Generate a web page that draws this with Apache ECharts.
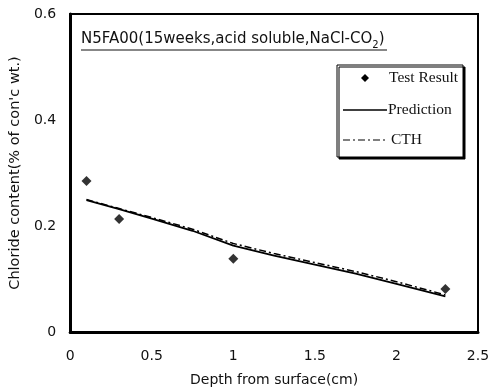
<!DOCTYPE html>
<html><head><meta charset="utf-8">
<script src="https://cdn.jsdelivr.net/npm/echarts@6/dist/echarts.min.js"></script>
<style>html,body{margin:0;padding:0;background:#fff}#c{width:494px;height:392px}</style>
</head><body><div id="c"></div>
<script>
var testX = [0.1, 0.3, 1.0, 2.3];
var testY = [0.285, 0.213, 0.138, 0.081];
var predX = [0.1, 0.3, 0.5, 0.75, 1.0, 1.25, 1.5, 1.75, 2.0, 2.3];
var predY = [0.249, 0.232, 0.214, 0.191, 0.163, 0.144, 0.127, 0.110, 0.091, 0.067];
var cthX = [0.1, 0.3, 0.5, 0.75, 1.0, 1.25, 1.5, 1.75, 2.0, 2.3];
var cthY = [0.250, 0.233, 0.216, 0.194, 0.167, 0.148, 0.131, 0.114, 0.095, 0.070];
var seriesNames = ['Test Result', 'Prediction', 'CTH'];
var xTicks = [0, 0.5, 1, 1.5, 2, 2.5];
var yTicks = [0, 0.2, 0.4, 0.6];

function pairs(xs, ys){ return xs.map(function(x,i){return [x, ys[i]];}); }

var chart = echarts.init(document.getElementById('c'), null, {renderer:'canvas'});
var font = 'DejaVu Sans, Verdana, sans-serif';
var serif = 'Liberation Serif, Times New Roman, serif';
chart.setOption({
  animation: false,
  backgroundColor: '#fff',
  grid: {left: 68, right: 16, top: 14, bottom: 60, show: true, borderColor: '#000', borderWidth: 2, backgroundColor: 'transparent'},
  xAxis: {
    type: 'value', min: xTicks[0], max: xTicks[xTicks.length-1], interval: 0.5,
    name: 'Depth from surface(cm)', nameLocation: 'middle', nameGap: 41,
    nameTextStyle: {fontFamily: font, fontSize: 14, color: '#111'},
    axisLine: {show: true, onZero: false, lineStyle: {color: '#000', width: 3}},
    axisTick: {show: false}, splitLine: {show: false},
    axisLabel: {fontFamily: font, fontSize: 14, color: '#111', margin: 17}
  },
  yAxis: {
    type: 'value', min: yTicks[0], max: yTicks[yTicks.length-1], interval: 0.2,
    name: "Chloride content(% of con'c wt.)", nameLocation: 'middle', nameGap: 45,
    nameTextStyle: {fontFamily: font, fontSize: 14.5, color: '#111'},
    axisLine: {show: true, onZero: false, lineStyle: {color: '#000', width: 3}},
    axisTick: {show: false}, splitLine: {show: false},
    axisLabel: {fontFamily: font, fontSize: 14, color: '#111', margin: 14}
  },
  series: [
    {name: seriesNames[0], type: 'scatter', symbol: 'diamond', symbolSize: 10, itemStyle: {color: '#000'}, data: pairs(testX, testY), z: 5},
    {name: seriesNames[1], type: 'line', symbol: 'none', lineStyle: {color: '#000', width: 1.8}, data: pairs(predX, predY)},
    {name: seriesNames[2], type: 'line', symbol: 'none', lineStyle: {color: '#000', width: 1.5, type: [7, 3, 2, 3]}, data: pairs(cthX, cthY)}
  ],
  graphic: [
    {type: 'text', x: 81, y: 30, style: {
      text: '{a|N5FA00(15weeks,acid soluble,NaCl-CO}{s|2}{a|)}',
      rich: {a: {fontFamily: font, fontSize: 15, fill: '#111', lineHeight: 17, verticalAlign: 'bottom'},
             s: {fontFamily: font, fontSize: 10, fill: '#111', lineHeight: 17, verticalAlign: 'bottom', padding: [0,0,-3,0]}}
    }},
    {type: 'line', shape: {x1: 81, y1: 50, x2: 387, y2: 50}, style: {stroke: '#111', lineWidth: 1}},
    {type: 'rect', shape: {x: 337, y: 65, width: 126, height: 92}, style: {fill: '#fff', stroke: '#000', lineWidth: 1, shadowColor: '#000', shadowOffsetX: 2, shadowOffsetY: 2, shadowBlur: 0}, z: 10},
    {type: 'polygon', shape: {points: [[365,74],[369,78],[365,82],[361,78]]}, style: {fill: '#000'}, z: 11},
    {type: 'text', x: 389, y: 70, style: {text: seriesNames[0], fontFamily: serif, fontSize: 15.5, fill: '#111'}, z: 11},
    {type: 'line', shape: {x1: 343, y1: 110, x2: 387, y2: 110}, style: {stroke: '#000', lineWidth: 1.5}, z: 11},
    {type: 'text', x: 388, y: 102, style: {text: seriesNames[1], fontFamily: serif, fontSize: 15.5, fill: '#111'}, z: 11},
    {type: 'line', shape: {x1: 343, y1: 140, x2: 388, y2: 140}, style: {stroke: '#000', lineWidth: 1.2, lineDash: [7, 3, 2, 3]}, z: 11},
    {type: 'text', x: 391, y: 132, style: {text: seriesNames[2], fontFamily: serif, fontSize: 15.5, fill: '#111'}, z: 11}
  ]
});
</script></body></html>
